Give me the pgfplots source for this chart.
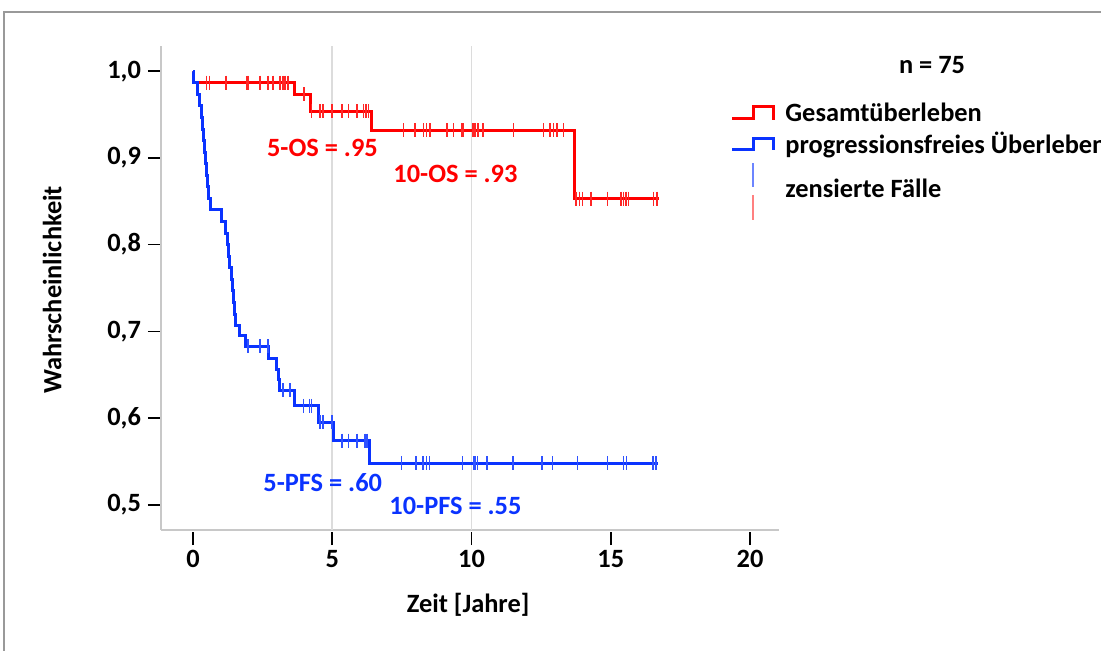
\documentclass[border=0pt]{standalone}
\usepackage{fontspec}
\setmainfont{Carlito}
\usepackage{pgfplots}
\pgfplotsset{compat=1.18}
\definecolor{osred}{HTML}{FF0000}
\definecolor{pfsblue}{HTML}{0A33FF}
\definecolor{axgray}{HTML}{C8C8C8}
\definecolor{gridgray}{HTML}{DCDCDC}
\newcommand\lf{\fontsize{13.2}{15.5}\selectfont\bfseries}

\begin{document}
\begin{tikzpicture}
\useasboundingbox (0,0) rectangle (550.5pt,-325pt);
\begin{axis}[
    at={(80.5pt,-265pt)}, anchor=south west,
    scale only axis, width=309pt, height=242pt,
    xmin=-1.15, xmax=21.04, ymin=0.471, ymax=1.029,
    axis x line*=bottom, axis y line*=left,
    axis line style={draw=axgray, line width=1pt, -},
    xtick={0,5,10,15,20},
    ytick={0.5,0.6,0.7,0.8,0.9,1.0},
    tick align=outside, major tick length=6.5pt,
    tick style={black, line width=0.8pt},
    x tick style={yshift=-1pt},
    /pgf/number format/assume math mode=true,
    tick label style={font=\lf},
    yticklabel style={/pgf/number format/.cd, fixed, fixed zerofill, precision=1, use comma},
    scaled y ticks=false,
    extra x ticks={5,10}, extra x tick labels={},
    extra x tick style={grid=major, major grid style={gridgray, line width=0.8pt}, major tick length=0pt},
    xlabel={Zeit [Jahre]},
    ylabel={Wahrscheinlichkeit},
    label style={font=\lf},
    xlabel style={at={(axis description cs:0.497,-0.155)}, anchor=center},
    ylabel style={at={(axis description cs:-0.176,0.496)}, anchor=center, rotate=0},
    clip=false,
]
% Gesamtueberleben (OS)
\addplot[osred, line width=1.5pt, const plot] coordinates {
(0,1) (0.02,0.9867) (3.63,0.9733) (4.2,0.954) (6.42,0.932) (13.68,0.853) (16.73,0.853)};
% progressionsfreies Ueberleben (PFS)
\addplot[pfsblue, line width=1.5pt, const plot] coordinates {
(0,1) (0.02,0.9867) (0.17,0.9733) (0.24,0.96) (0.30,0.9467) (0.35,0.9333) (0.38,0.92)
(0.41,0.9067) (0.44,0.8933) (0.48,0.88) (0.52,0.8667) (0.56,0.8533) (0.64,0.84)
(1.03,0.8267) (1.18,0.8133) (1.22,0.80) (1.27,0.7867) (1.32,0.7733) (1.37,0.76)
(1.42,0.7467) (1.46,0.7333) (1.50,0.72) (1.53,0.7067) (1.66,0.695) (1.87,0.683)
(2.72,0.669) (2.98,0.656) (3.08,0.644) (3.12,0.632) (3.66,0.614) (4.5,0.595)
(5.05,0.574) (6.33,0.548) (16.71,0.548)};
% zensierte Faelle OS
\addplot[only marks, mark=|, mark size=3.5pt, mark options={osred!85, line width=0.8pt}] coordinates {
(0.49,0.9867) (0.59,0.9867) (1.18,0.9867) (1.93,0.9867) (1.99,0.9867) (2.41,0.9867)
(2.70,0.9867) (2.88,0.9867) (3.12,0.9867) (3.22,0.9867) (3.30,0.9867) (3.42,0.9867)
(3.99,0.9733)
(4.26,0.954) (4.56,0.954) (4.66,0.954) (4.98,0.954) (5.34,0.954) (5.58,0.954)
(5.88,0.954) (6.12,0.954) (6.21,0.954) (6.30,0.954)
(7.55,0.932) (7.97,0.932) (8.27,0.932) (8.39,0.932) (8.51,0.932) (9.11,0.932)
(9.35,0.932) (9.65,0.932) (9.71,0.932) (10.06,0.932) (10.13,0.932) (10.24,0.932)
(10.42,0.932) (11.50,0.932) (12.58,0.932) (12.82,0.932) (12.94,0.932) (13.06,0.932)
(13.30,0.932)
(13.75,0.853) (13.87,0.853) (13.99,0.853) (14.28,0.853) (14.88,0.853) (15.36,0.853)
(15.45,0.853) (15.55,0.853) (15.63,0.853) (16.53,0.853) (16.65,0.853)};
% zensierte Faelle PFS
\addplot[only marks, mark=|, mark size=3.5pt, mark options={pfsblue!85, line width=0.8pt}] coordinates {
(1.97,0.683) (2.41,0.683) (2.70,0.683)
(3.24,0.632) (3.48,0.632)
(3.96,0.614) (4.18,0.614) (4.26,0.614)
(4.56,0.595) (4.66,0.595) (4.98,0.595)
(5.34,0.574) (5.58,0.574) (5.88,0.574) (6.18,0.574) (6.24,0.574)
(7.49,0.548) (8.01,0.548) (8.25,0.548) (8.39,0.548) (8.49,0.548) (9.68,0.548)
(10.07,0.548) (10.13,0.548) (10.21,0.548) (10.55,0.548) (11.48,0.548) (12.52,0.548)
(12.91,0.548) (13.80,0.548) (14.88,0.548) (15.45,0.548) (15.57,0.548) (16.51,0.548)
(16.62,0.548)};
\end{axis}
\begin{scope}[x=0.5pt, y=-0.5pt]
  % Rahmen
  \draw[gray!80, line width=0.6pt] (4,700) -- (4,12) -- (1200,12);
  % Beschriftungen im Diagramm
  \node[anchor=base west, inner sep=0, text=osred, font=\lf] at (266.7,156) {5-OS = .95};
  \node[anchor=base west, inner sep=0, text=osred, font=\lf] at (393,182.7) {10-OS = .93};
  \node[anchor=base west, inner sep=0, text=pfsblue, font=\lf] at (263,491.7) {5-PFS = .60};
  \node[anchor=base west, inner sep=0, text=pfsblue, font=\lf] at (389,514) {10-PFS = .55};
  % Legende
  \node[anchor=base, inner sep=0, font=\lf] at (932,73) {n = 75};
  \draw[osred, line width=1.5pt] (732,118) -- (753,118) -- (753,106) -- (773,106) -- (773,120);
  \draw[pfsblue, line width=1.5pt] (732,149) -- (753,149) -- (753,138) -- (773,138) -- (773,150);
  \draw[pfsblue!60, line width=0.8pt] (752.7,163) -- (752.7,187);
  \draw[osred!50, line width=0.8pt] (752.7,195) -- (752.7,220);
  \node[anchor=base west, inner sep=0, font=\lf] at (785,121.7) {Gesamtüberleben};
  \node[anchor=base west, inner sep=0, font=\lf] at (785,153) {progressionsfreies Überleben};
  \node[anchor=base west, inner sep=0, font=\lf] at (785,197) {zensierte Fälle};
\end{scope}
\end{tikzpicture}
\end{document}
